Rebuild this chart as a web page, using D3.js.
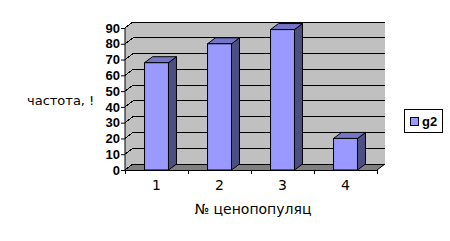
<!DOCTYPE html>
<html>
<head>
<meta charset="utf-8">
<script src="https://cdn.jsdelivr.net/npm/d3@7"></script>
<style>
  body { margin: 0; background: #fff; }
  svg { display: block; font-family: "Liberation Sans", Arial, sans-serif; }
</style>
</head>
<body>
<div id="container"></div>
<script>
const categories = ["1", "2", "3", "4"];
const values = [68, 80, 89, 20];
const seriesName = "g2";
const yTicks = [0, 10, 20, 30, 40, 50, 60, 70, 80, 90];

const width = 450;
const height = 241;
const depthX = 8;
const depthY = -6;

const x = d3.scaleBand()
  .domain(categories)
  .range([125, 377])
  .paddingInner(0)
  .paddingOuter(0);

const y = d3.scaleLinear()
  .domain([0, 90])
  .range([170, 28]);

const barW = x.bandwidth() * 0.38;

const svg = d3.select("#container").append("svg")
  .attr("width", width)
  .attr("height", height);

const x0 = x.range()[0], x1 = x.range()[1];
const yb = y(0), yt = y(90);

// floor
svg.append("polygon")
  .attr("points", [[x0, yb], [x1, yb], [x1 + depthX, yb + depthY], [x0 + depthX, yb + depthY]].join(" "))
  .attr("fill", "#808080");

// back wall
svg.append("rect")
  .attr("x", x0 + depthX).attr("y", yt + depthY)
  .attr("width", x1 - x0).attr("height", yb - yt)
  .attr("fill", "#c0c0c0");

// side wall
svg.append("polygon")
  .attr("points", [[x0, yt], [x0 + depthX, yt + depthY], [x0 + depthX, yb + depthY], [x0, yb]].join(" "))
  .attr("fill", "#c0c0c0");

// grid lines
svg.append("g").selectAll("polyline")
  .data(yTicks)
  .join("polyline")
  .attr("points", d => [[x0, y(d)], [x0 + depthX, y(d) + depthY], [x1 + depthX, y(d) + depthY]].join(" "))
  .attr("fill", "none")
  .attr("stroke", "#000")
  .attr("stroke-width", 1)
  .attr("shape-rendering", "crispEdges");

// axes
svg.append("g")
  .attr("transform", `translate(${x0},0)`)
  .call(d3.axisLeft(y).tickValues(yTicks).tickSize(4).tickPadding(1))
  .call(g => g.select(".domain").attr("d", `M0,${yt}V${yb}`).attr("stroke", "#000"))
  .call(g => g.selectAll("text").attr("font-size", 13).attr("font-weight", "bold")
    .attr("font-family", "Liberation Sans, Arial, sans-serif").attr("fill", "#000"));

const xAxisG = svg.append("g")
  .attr("transform", `translate(0,${yb})`);
xAxisG.append("line")
  .attr("x1", x0).attr("x2", x1).attr("y1", 0.5).attr("y2", 0.5)
  .attr("stroke", "#000");
xAxisG.append("line")
  .attr("x1", x1).attr("y1", 0).attr("x2", x1 + depthX).attr("y2", depthY)
  .attr("stroke", "#000");
xAxisG.selectAll("line.tk")
  .data(categories.map(c => x(c)).concat([x1]))
  .join("line")
  .attr("class", "tk")
  .attr("x1", d => Math.round(d) + 0.5).attr("x2", d => Math.round(d) + 0.5)
  .attr("y1", 0).attr("y2", 4)
  .attr("stroke", "#000");
xAxisG.selectAll("text")
  .data(categories)
  .join("text")
  .attr("x", d => x(d) + x.bandwidth() / 2)
  .attr("y", 20)
  .attr("text-anchor", "middle")
  .attr("font-family", "DejaVu Sans, sans-serif")
  .attr("font-size", 14)
  .text(d => d);

// bars
const bars = svg.append("g").selectAll("g")
  .data(categories.map((c, i) => ({ c, v: values[i] })))
  .join("g");

bars.append("polygon")
  .attr("points", d => {
    const bx = x(d.c) + (x.bandwidth() - barW) / 2;
    const yv = y(d.v);
    return [[bx + barW, yv], [bx + barW + depthX, yv + depthY], [bx + barW + depthX, yb + depthY], [bx + barW, yb]].join(" ");
  })
  .attr("fill", "#4b4f82")
  .attr("stroke", "#000")
  .attr("stroke-linejoin", "round");

bars.append("polygon")
  .attr("points", d => {
    const bx = x(d.c) + (x.bandwidth() - barW) / 2;
    const yv = y(d.v);
    return [[bx, yv], [bx + depthX, yv + depthY], [bx + barW + depthX, yv + depthY], [bx + barW, yv]].join(" ");
  })
  .attr("fill", "#7575c8")
  .attr("stroke", "#000")
  .attr("stroke-linejoin", "round");

bars.append("rect")
  .attr("x", d => x(d.c) + (x.bandwidth() - barW) / 2)
  .attr("y", d => y(d.v))
  .attr("width", barW)
  .attr("height", d => yb - y(d.v))
  .attr("fill", "#9999ff")
  .attr("stroke", "#000");

// titles
svg.append("text")
  .attr("x", 27).attr("y", 105)
  .attr("font-family", "DejaVu Sans, sans-serif")
  .attr("font-size", 13)
  .text("частота, !");

svg.append("text")
  .attr("x", 253).attr("y", 214)
  .attr("text-anchor", "middle")
  .attr("font-family", "DejaVu Sans, sans-serif")
  .attr("font-size", 14)
  .text("№ ценопопуляц");

// legend
const lg = svg.append("g").attr("transform", "translate(404,109)");
lg.append("rect")
  .attr("x", 0.5).attr("y", 0.5).attr("width", 38).attr("height", 23)
  .attr("fill", "#fff").attr("stroke", "#000");
lg.append("rect")
  .attr("x", 6.5).attr("y", 8.5).attr("width", 8).attr("height", 8)
  .attr("fill", "#9999ff").attr("stroke", "#000");
lg.append("text")
  .attr("x", 18).attr("y", 17)
  .attr("font-size", 13)
  .attr("font-weight", "bold")
  .text(seriesName);
</script>
</body>
</html>
